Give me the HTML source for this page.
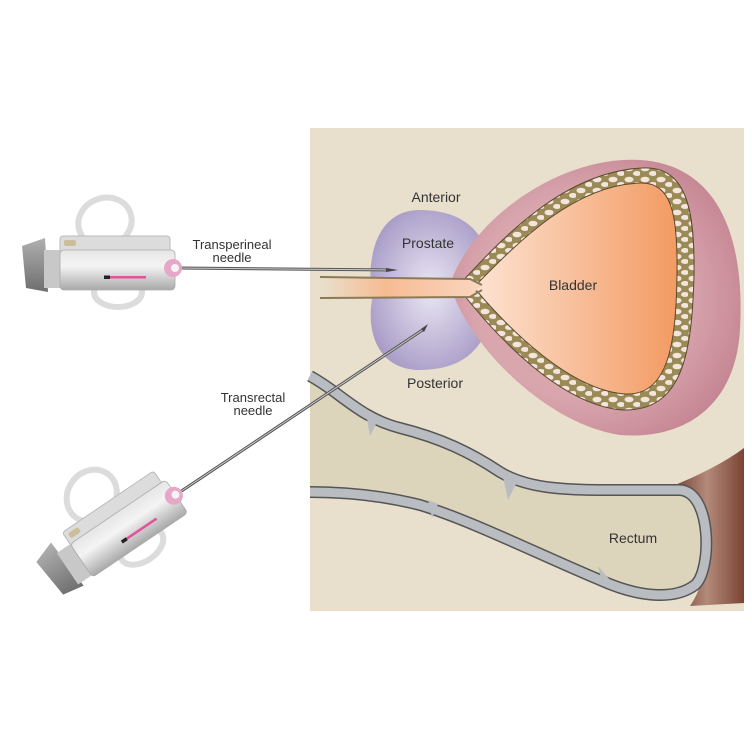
<!DOCTYPE html>
<html><head><meta charset="utf-8"><style>html,body{margin:0;padding:0;background:#fff}svg{display:block}text{font-family:"Liberation Sans",sans-serif;fill:#333}</style></head>
<body>
<svg width="752" height="752" viewBox="0 0 752 752" xmlns="http://www.w3.org/2000/svg">
<defs>
<linearGradient id="body" x1="0" y1="0" x2="0" y2="1"><stop offset="0" stop-color="#e6e6e6"/><stop offset="0.4" stop-color="#f4f4f4"/><stop offset="1" stop-color="#a9a9a9"/></linearGradient>
<linearGradient id="cap" x1="0" y1="0" x2="0" y2="1"><stop offset="0" stop-color="#b0b0b0"/><stop offset="1" stop-color="#6e6e6e"/></linearGradient>
<radialGradient id="pros" cx="0.5" cy="0.5" r="0.6"><stop offset="0" stop-color="#ebe7f4"/><stop offset="1" stop-color="#a396c3"/></radialGradient>
<linearGradient id="lum" x1="0" y1="0" x2="1" y2="0"><stop offset="0" stop-color="#fde3d2"/><stop offset="1" stop-color="#f39a62"/></linearGradient>
<linearGradient id="ure" x1="0" y1="0" x2="1" y2="0"><stop offset="0" stop-color="#e8e0cc"/><stop offset="0.4" stop-color="#f7bb94"/><stop offset="1" stop-color="#fbd6bf"/></linearGradient>
<linearGradient id="brown" x1="0" y1="0" x2="1" y2="0"><stop offset="0" stop-color="#6e3a2c"/><stop offset="0.5" stop-color="#b48a7a"/><stop offset="1" stop-color="#7a4434"/></linearGradient>
<radialGradient id="pink" cx="0.45" cy="0.5" r="0.6"><stop offset="0.6" stop-color="#d9a6ae"/><stop offset="1" stop-color="#c48592"/></radialGradient>
<pattern id="cells" width="16" height="11" patternUnits="userSpaceOnUse"><rect width="16" height="11" fill="#9a8a55"/><ellipse cx="5" cy="3.5" rx="4.5" ry="2.8" fill="#f3e4de"/><ellipse cx="13" cy="8.5" rx="4" ry="2.5" fill="#f3e4de"/></pattern>
<g id="syr">
<ellipse cx="105" cy="222" rx="27" ry="24" fill="none" stroke="#dcdcdc" stroke-width="6" transform="rotate(-20 105 222)"/>
<ellipse cx="118" cy="292" rx="24" ry="15" fill="none" stroke="#dcdcdc" stroke-width="6"/>
<rect x="60" y="236" width="110" height="18" rx="3" fill="#dcdcdc" stroke="#bbb"/>
<rect x="64" y="240" width="12" height="6" rx="2" fill="#cbbf9a"/>
<path d="M22,246 L45,238 L48,292 L26,288 Z" fill="url(#cap)"/>
<rect x="44" y="250" width="20" height="38" fill="#c8c8c8"/>
<rect x="60" y="250" width="115" height="40" rx="4" fill="url(#body)" stroke="#aaa" stroke-width="0.8"/>
<rect x="104" y="276" width="42" height="2.5" fill="#e0559a"/>
<rect x="104" y="275.5" width="6" height="3.5" fill="#222"/>
<circle cx="173" cy="268" r="9" fill="#e7a7c8"/>
<circle cx="175" cy="268" r="4" fill="#f4f4f4"/>
</g>
</defs>
<rect width="752" height="752" fill="#fff"/>
<rect x="310" y="128" width="434" height="483" fill="#e8e0cc"/>
<!-- rectum -->
<path d="M670,487 C700,475 725,462 744,448 L744,603 L690,606 C715,570 712,505 670,487Z" fill="url(#brown)"/>
<path d="M310,376 C340,392 360,418 400,428 C440,438 470,452 500,472 C530,490 570,490 620,490 L680,490 C712,492 712,570 695,585 C675,600 640,598 600,580 C540,555 470,520 420,505 C380,495 340,492 310,492 Z" fill="#ddd4bc"/>
<path d="M310,376 C340,392 360,418 400,428 C440,438 470,452 500,472 C530,490 570,490 620,490 L680,490 C712,492 712,570 695,585 C675,600 640,598 600,580 C540,555 470,520 420,505 C380,495 340,492 310,492" fill="none" stroke="#555" stroke-width="12"/>
<path d="M310,376 C340,392 360,418 400,428 C440,438 470,452 500,472 C530,490 570,490 620,490 L680,490 C712,492 712,570 695,585 C675,600 640,598 600,580 C540,555 470,520 420,505 C380,495 340,492 310,492" fill="none" stroke="#b9bcc0" stroke-width="9"/>
<path d="M366,413 L370,436 L378,420Z M428,500 L432,518 L438,504Z M503,477 L508,500 L516,484Z M598,566 L602,582 L610,580Z" fill="#b9bcc0"/>
<!-- prostate then bladder -->
<path d="M420,210 C470,210 495,240 490,290 C495,340 470,370 420,370 C380,370 366,335 372,300 C366,260 375,210 420,210Z" fill="url(#pros)"/>
<path d="M450,285 C470,220 560,155 640,160 C720,165 745,240 740,330 C735,410 680,440 620,435 C550,425 470,350 450,285Z" fill="url(#pink)"/>
<path d="M460,284 C505,235 565,172 642,168 C685,166 695,205 694,275 C692,355 682,412 622,410 C560,405 495,335 460,290Z" fill="url(#cells)" stroke="#5a4a30" stroke-width="1"/>
<path d="M476,285 C520,240 575,185 640,183 C672,182 678,215 677,275 C676,345 668,396 625,394 C570,390 510,330 476,290Z" fill="url(#lum)" stroke="#5a4a30" stroke-width="1"/>
<path d="M320,277 L470,279 L482,285 L470,297 L320,298Z" fill="url(#ure)"/>
<path d="M320,277 L470,279 L482,285 M320,298 L470,297 L482,290" fill="none" stroke="#8a7a55" stroke-width="2"/>
<!-- needles -->
<line x1="180" y1="268" x2="390" y2="270" stroke="#555" stroke-width="3"/>
<line x1="180" y1="268" x2="390" y2="270" stroke="#ccc" stroke-width="1"/>
<path d="M386,268 L398,270 L386,272Z" fill="#444"/>
<line x1="180" y1="492" x2="424" y2="329" stroke="#555" stroke-width="3"/>
<line x1="180" y1="492" x2="424" y2="329" stroke="#ccc" stroke-width="1"/>
<path d="M421,329 L428,324 L424,332Z" fill="#444"/>
<use href="#syr"/>
<use href="#syr" transform="translate(178,493) rotate(-34) translate(-178,-268)"/>
<!-- labels -->
<g font-size="14">
<text x="436" y="202" text-anchor="middle">Anterior</text>
<text x="428" y="248" text-anchor="middle">Prostate</text>
<text x="573" y="290" text-anchor="middle">Bladder</text>
<text x="435" y="388" text-anchor="middle">Posterior</text>
<text x="633" y="543" text-anchor="middle">Rectum</text>
</g>
<g font-size="13">
<text x="232" y="249" text-anchor="middle">Transperineal</text>
<text x="232" y="262" text-anchor="middle">needle</text>
<text x="253" y="402" text-anchor="middle">Transrectal</text>
<text x="253" y="415" text-anchor="middle">needle</text>
</g>
</svg>
</body></html>
